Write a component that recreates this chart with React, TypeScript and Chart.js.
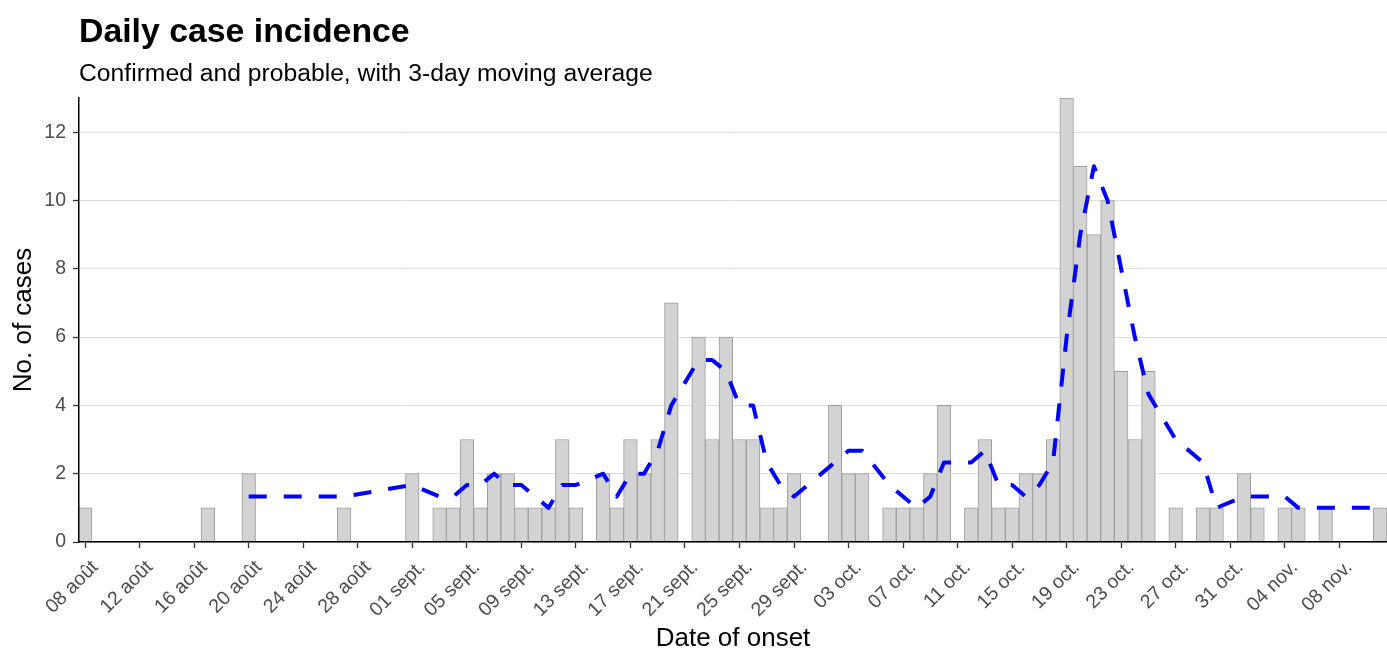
import { useEffect, useRef } from "react";
import { Chart, registerables } from "chart.js";

Chart.register(...registerables);

// Day index 0 = 08 août; one value per day up to 11 nov. (index 95)
const tickDays = [0, 4, 8, 12, 16, 20, 24, 28, 32, 36, 40, 44, 48, 52, 56, 60, 64, 68, 72, 76, 80, 84, 88, 92];
const tickLabels = [
  "08 août", "12 août", "16 août", "20 août", "24 août", "28 août",
  "01 sept.", "05 sept.", "09 sept.", "13 sept.", "17 sept.", "21 sept.", "25 sept.", "29 sept.",
  "03 oct.", "07 oct.", "11 oct.", "15 oct.", "19 oct.", "23 oct.", "27 oct.", "31 oct.",
  "04 nov.", "08 nov.",
];

const casesAug = [1, 0, 0, 0, 0, 0, 0, 0, 0, 1, 0, 0, 2, 0, 0, 0, 0, 0, 0, 1, 0, 0, 0, 0];
const casesSep = [2, 0, 1, 1, 3, 1, 2, 2, 1, 1, 1, 3, 1, 0, 2, 1, 3, 2, 3, 7, 0, 6, 3, 6, 3, 3, 1, 1, 2, 0];
const casesOct = [0, 4, 2, 2, 0, 1, 1, 1, 2, 4, 0, 1, 3, 1, 1, 2, 2, 3, 13, 11, 9, 10, 5, 3, 5, 0, 1, 0, 1, 1, 0];
const casesNov = [2, 1, 0, 1, 1, 0, 1, 0, 0, 0, 1];

const maDays = [
  12, 19, 24, 26, 27, 28, 29, 30, 31, 32, 33, 34, 35, 36, 38, 39, 40, 41, 42, 43, 45, 46, 47, 48, 49, 50, 51, 52,
  55, 56, 57, 59, 60, 61, 62, 63, 65, 66, 67, 68, 69, 70, 71, 72, 73, 74, 75, 76, 77, 78, 80, 82, 83,
  85, 86, 88, 89, 91, 95,
];
const maValues = [
  1.33, 1.33, 1.67, 1.33, 1.33, 1.67, 1.67, 2, 1.67, 1.67, 1.33, 1, 1.67, 1.67, 2, 1.33, 2, 2, 2.67, 4, 5.33, 5.33, 5, 4, 4, 2.33, 1.67, 1.33,
  2.33, 2.67, 2.67, 1.67, 1.33, 1, 1.33, 2.33, 2.33, 2.67, 1.67, 1.67, 1.33, 1.67, 2.33, 6, 9, 11, 10, 8, 6, 4.33, 3, 2.33, 1,
  1.33, 1.33, 1.33, 1, 1, 1,
];

const yTicks = [0, 2, 4, 6, 8, 10, 12];

const TITLE = "Daily case incidence";
const SUBTITLE = "Confirmed and probable, with 3-day moving average";
const X_TITLE = "Date of onset";
const Y_TITLE = "No. of cases";
const FONT = "'Liberation Sans', Arial, sans-serif";

export default function App() {
  const ref = useRef<HTMLCanvasElement>(null);

  useEffect(() => {
    document.body.style.margin = "0";
    const daily = [...casesAug, ...casesSep, ...casesOct, ...casesNov];
    const barData = daily.map((v, i) => ({ x: i, y: v })).filter((p) => p.y > 0);
    const lineData = maDays.map((d, i) => ({ x: d, y: maValues[i] }));

    const titlePlugin = {
      id: "titles",
      afterDraw(chart: any) {
        const ctx = chart.ctx;
        ctx.save();
        ctx.fillStyle = "#000";
        ctx.textAlign = "left";
        ctx.textBaseline = "alphabetic";
        ctx.font = `bold 33.8px ${FONT}`;
        ctx.fillText(TITLE, 79, 42);
        ctx.font = `24.7px ${FONT}`;
        ctx.fillText(SUBTITLE, 79, 81);
        ctx.restore();
      },
    };

    const chart = new Chart(ref.current as HTMLCanvasElement, {
      type: "bar",
      data: {
        datasets: [
          {
            type: "line",
            data: lineData,
            borderColor: "#0000FF",
            borderWidth: 4,
            borderDash: [18, 17],
            borderCapStyle: "butt",
            borderJoinStyle: "round",
            pointRadius: 0,
            tension: 0,
            fill: false,
            order: 0,
          } as any,
          {
            type: "bar",
            data: barData,
            backgroundColor: "#D3D3D3",
            borderColor: "#9E9E9E",
            borderWidth: 1,
            barPercentage: 1,
            categoryPercentage: 1,
            order: 1,
          } as any,
        ],
      },
      options: {
        animation: false,
        responsive: false,
        maintainAspectRatio: false,
        layout: { padding: { left: 0, right: 0, top: 98, bottom: 0 } },
        plugins: { legend: { display: false }, tooltip: { enabled: false } },
        scales: {
          x: {
            type: "linear",
            min: -0.45,
            max: 95.5,
            offset: false,
            afterBuildTicks: (axis: any) => {
              axis.ticks = tickDays.map((v) => ({ value: v }));
            },
            afterFit: (s: any) => {
              s.height = 107;
            },
            ticks: {
              autoSkip: false,
              minRotation: 45,
              maxRotation: 45,
              color: "#4D4D4D",
              font: { family: FONT, size: 19.5 },
              padding: 8,
              labelOffset: 10,
              callback: (v: any) => {
                const i = tickDays.indexOf(Number(v));
                return i >= 0 ? tickLabels[i] : "";
              },
            },
            grid: { drawOnChartArea: false, offset: false, tickLength: 6, tickColor: "#333333", tickWidth: 1.3 },
            border: { color: "#000", width: 1.5, z: 1 },
            title: {
              display: true,
              text: X_TITLE,
              color: "#000",
              font: { family: FONT, size: 26, lineHeight: 0.8 },
              padding: { top: 0, bottom: 0 },
            },
          } as any,
          y: {
            min: 0,
            max: 13,
            afterBuildTicks: (axis: any) => {
              axis.ticks = yTicks.map((v) => ({ value: v }));
            },
            afterFit: (s: any) => {
              s.width = 79;
            },
            ticks: {
              color: "#4D4D4D",
              font: { family: FONT, size: 19.5 },
              padding: 7,
            },
            grid: { color: "#DEDEDE", lineWidth: 1, tickLength: 6, tickColor: "#333333", tickWidth: 1.3 },
            border: { color: "#000", width: 1.5, z: 1 },
            title: {
              display: true,
              text: Y_TITLE,
              color: "#000",
              font: { family: FONT, size: 26, lineHeight: 1.2 },
              padding: { top: 8, bottom: 0 },
            },
          } as any,
        },
      },
      plugins: [titlePlugin],
    });
    return () => chart.destroy();
  }, []);

  return (
    <div style={{ width: 1387, height: 649 }}>
      <canvas ref={ref} width={1387} height={649} style={{ width: 1387, height: 649, display: "block" }} />
    </div>
  );
}
